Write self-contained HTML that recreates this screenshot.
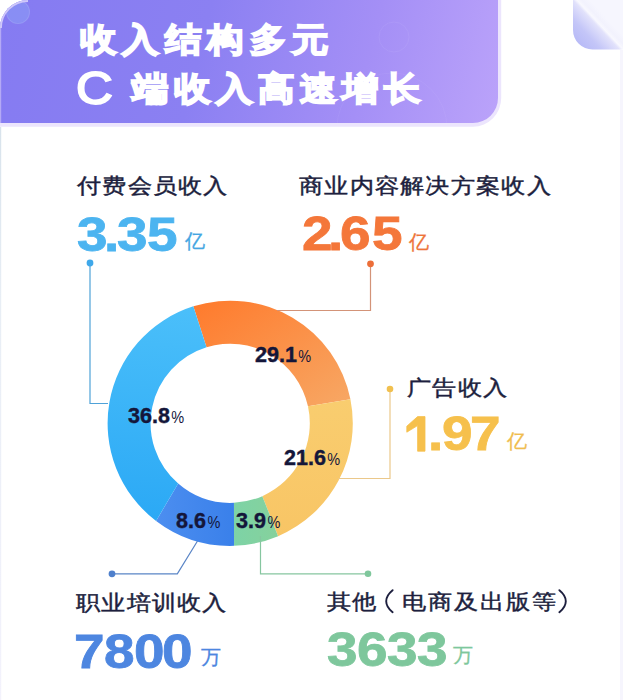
<!DOCTYPE html>
<html><head><meta charset="utf-8">
<style>
html,body{margin:0;padding:0;}
body{width:623px;height:700px;position:relative;overflow:hidden;background:#fff;font-family:"Liberation Sans",sans-serif;}
.t{position:absolute;color:#fff;font-weight:900;font-size:35px;white-space:nowrap;letter-spacing:5.8px;line-height:1;-webkit-text-stroke:1.9px #fff;transform-origin:0 0;transform:scale(1.04,0.94);}
.lab{position:absolute;color:#1d1f3e;font-weight:500;font-size:24px;white-space:nowrap;line-height:1;letter-spacing:1.3px;-webkit-text-stroke:0.5px #1d1f3e;transform-origin:0 0;transform:scaleY(0.87);}
.num{position:absolute;font-weight:bold;font-size:49px;white-space:nowrap;line-height:1;-webkit-text-stroke:0.8px currentColor;transform-origin:0 0;transform:scaleX(1.12);}
.u{position:absolute;font-size:19.5px;font-weight:500;white-space:nowrap;line-height:1;-webkit-text-stroke:0.3px currentColor;}
.pct{position:absolute;color:#14163a;font-weight:bold;font-size:21.5px;white-space:nowrap;line-height:1;-webkit-text-stroke:0.4px #14163a;}
.pct span{-webkit-text-stroke:0;font-weight:normal;font-size:14.5px;margin-left:1.5px;display:inline-block;transform-origin:0 100%;transform:scaleY(1.14);}
svg{position:absolute;left:0;top:0;}
</style></head><body>
<svg width="623" height="140" style="position:absolute;left:0;top:0;">
<defs>
<linearGradient id="gH" gradientUnits="userSpaceOnUse" x1="0" y1="0" x2="500" y2="125"><stop offset="0" stop-color="#857bf2"/><stop offset="0.4" stop-color="#8b80f2"/><stop offset="0.72" stop-color="#a48ff6"/><stop offset="1" stop-color="#bba3fa"/></linearGradient>
<clipPath id="cH"><path d="M0 28A28 28 0 0 1 28 0H498V98A25 25 0 0 1 473 123H0Z"/></clipPath>
</defs>
<path d="M0 28A28 28 0 0 1 28 0H501.2V98A28.7 28.7 0 0 1 473 126.8H0Z" fill="#ece5fd"/>
<path d="M0 28A28 28 0 0 1 28 0H498V98A25 25 0 0 1 473 123H0Z" fill="url(#gH)"/>
<g clip-path="url(#cH)">
<rect x="0" y="0" width="1.2" height="123" fill="#b4a9f6"/>
<circle cx="18" cy="12" r="11.5" fill="#8a94f4" fill-opacity="0.75" stroke="#a3a9f7" stroke-opacity="0.5" stroke-width="1.2"/>
<path d="M0.8 28A27.2 27.2 0 0 1 28 0.8" fill="none" stroke="#cfc8fa" stroke-width="2.2"/>
<circle cx="394" cy="37" r="15" fill="none" stroke="#ffffff" stroke-opacity="0.06" stroke-width="1"/>
<circle cx="392" cy="128" r="55" fill="none" stroke="#ffffff" stroke-opacity="0.05" stroke-width="1"/>
</g>
</svg>
<div class="t" style="left:80px;top:23px;">收入结构多元</div>
<div class="t" style="left:76px;top:65px;font-size:49px;letter-spacing:0;font-weight:normal;-webkit-text-stroke:2px #fff;">C</div>
<div class="t" style="left:132px;top:72px;letter-spacing:5.4px;">端收入高速增长</div>

<svg width="623" height="700" viewBox="0 0 623 700">
<defs>
<linearGradient id="gOr" x1="0" y1="0" x2="1" y2="1"><stop offset="0" stop-color="#ff7a2c"/><stop offset="1" stop-color="#f7a865"/></linearGradient>
<linearGradient id="gYe" x1="0" y1="0" x2="0" y2="1"><stop offset="0" stop-color="#f9cd6f"/><stop offset="1" stop-color="#f8c565"/></linearGradient>
<linearGradient id="gGr" x1="0" y1="0" x2="1" y2="0"><stop offset="0" stop-color="#7dd3a6"/><stop offset="1" stop-color="#86d19c"/></linearGradient>
<linearGradient id="gDb" x1="0" y1="0" x2="1" y2="0"><stop offset="0" stop-color="#4c8ef0"/><stop offset="1" stop-color="#3a80ea"/></linearGradient>
<linearGradient id="gLb" gradientUnits="userSpaceOnUse" x1="200" y1="300" x2="180" y2="530"><stop offset="0" stop-color="#4cc0fa"/><stop offset="1" stop-color="#2aa8f5"/></linearGradient>
<linearGradient id="gFold" gradientUnits="userSpaceOnUse" x1="572.5" y1="48.9" x2="605.8" y2="17.7"><stop offset="0" stop-color="#b0b3f6"/><stop offset="0.45" stop-color="#c4c6f8"/><stop offset="0.74" stop-color="#e2e2fb"/><stop offset="0.8" stop-color="#f8f8fe"/><stop offset="0.88" stop-color="#f2f2fd"/><stop offset="1" stop-color="#f6f6fe"/></linearGradient>
</defs>
<path d="M573 0V30A19.6 19.6 0 0 0 592.6 49.6H623V0Z" fill="url(#gFold)"/>
<rect x="620" y="50" width="3" height="650" fill="#f6f5fd"/>
<linearGradient id="gLeft" x1="0" y1="0" x2="0" y2="1"><stop offset="0" stop-color="#d8e3ec"/><stop offset="0.3" stop-color="#e8eef5"/><stop offset="1" stop-color="#f3f2fc"/></linearGradient>
<rect x="0" y="127" width="1.2" height="573" fill="url(#gLeft)"/>
<path d="M193.33 306.37A122.6 122.6 0 0 1 350.42 399.28L307.97 406.34A79.6 79.6 0 0 0 206.53 347.30Z" fill="url(#gOr)"/>
<path d="M350.42 399.28A122.6 122.6 0 0 1 278.10 536.15L262.32 496.13A79.6 79.6 0 0 0 307.97 406.34Z" fill="url(#gYe)"/>
<path d="M278.10 536.15A122.6 122.6 0 0 1 234.05 545.84L233.95 502.81A79.6 79.6 0 0 0 262.32 496.13Z" fill="url(#gGr)"/>
<path d="M234.05 545.84A122.6 122.6 0 0 1 156.08 520.95L178.19 483.56A79.6 79.6 0 0 0 233.95 502.81Z" fill="url(#gDb)"/>
<path d="M156.08 520.95A122.6 122.6 0 0 1 193.33 306.37L206.53 347.30A79.6 79.6 0 0 0 178.19 483.56Z" fill="url(#gLb)"/>
<g fill="none" stroke-width="1.2">
<path d="M90 263V403.5H108" stroke="#4fa2d8"/>
<path d="M370.5 264V310.5H277" stroke="#d39378"/>
<path d="M390 389V478.5H338" stroke="#ebc88a"/>
<path d="M112 573.8H177.3L197.5 541" stroke="#5a85c6"/>
<path d="M260.5 536V573.8H368" stroke="#86c6a0"/>
</g>
<circle cx="90" cy="263" r="3.4" fill="#3fa8ea"/>
<circle cx="370.5" cy="263.8" r="3.4" fill="#ec6e38"/>
<circle cx="390" cy="389" r="3.3" fill="#f1c04f"/>
<circle cx="112" cy="573.8" r="3.4" fill="#4f80cc"/>
<circle cx="368" cy="573.8" r="3.3" fill="#7fc79c"/>
</svg>

<div class="lab" style="left:77px;top:176px;">付费会员收入</div>
<div class="num" style="left:76.9px;top:209.5px;color:#4cb4f0;">3</div><div class="num" style="left:104.0px;top:209.5px;color:#4cb4f0;">.</div><div class="num" style="left:117.3px;top:209.5px;color:#4cb4f0;">3</div><div class="num" style="left:146.5px;top:209.5px;color:#4cb4f0;">5</div><div class="u" style="left:185px;top:231px;font-size:20px;color:#44a6e2;">亿</div>
<div class="lab" style="left:299px;top:176px;">商业内容解决方案收入</div>
<div class="num" style="left:301.9px;top:209px;color:#f4773a;">2</div><div class="num" style="left:328.0px;top:209px;color:#f4773a;">.</div><div class="num" style="left:340.2px;top:209px;color:#f4773a;">6</div><div class="num" style="left:371.5px;top:209px;color:#f4773a;">5</div><div class="u" style="left:409px;top:231.5px;font-size:20px;color:#ee7438;">亿</div>
<div class="lab" style="left:407px;top:378px;">广告收入</div>
<svg width="623" height="700" style="position:absolute;left:0;top:0;"><path d="M417.6 416.6H425V451.2H417.6V425.6L406.8 432.2V426.2Z" fill="#f6c04c" stroke="#f6c04c" stroke-width="0.8" stroke-linejoin="round"/></svg><div class="num" style="left:428.3px;top:409px;color:#f6c04c;">.</div><div class="num" style="left:441.7px;top:409px;color:#f6c04c;">9</div><div class="num" style="left:470.0px;top:409px;color:#f6c04c;">7</div><div class="u" style="left:506.5px;top:431px;font-size:20px;color:#f0bd4e;">亿</div>
<div class="lab" style="left:76px;top:593px;">职业培训收入</div>
<div class="num" style="left:74.4px;top:626.5px;color:#4d86e0;">7</div><div class="num" style="left:103.7px;top:626.5px;color:#4d86e0;">8</div><div class="num" style="left:133.5px;top:626.5px;color:#4d86e0;">0</div><div class="num" style="left:161.7px;top:626.5px;color:#4d86e0;">0</div><div class="u" style="left:201px;top:648px;color:#4d86e0;">万</div>
<div class="lab" style="left:327px;top:592px;">其他</div><svg width="623" height="700" style="position:absolute;left:0;top:0;"><path d="M392.6 590.2Q386.2 595.5 386.2 601.2Q386.2 607 392.6 612.2M559.4 590.2Q565.8 595.5 565.8 601.2Q565.8 607 559.4 612.2" fill="none" stroke="#1d1f3e" stroke-width="1.9" stroke-linecap="round"/></svg><div class="lab" style="left:402px;top:592px;letter-spacing:2px;">电商及出版等</div>
<div class="num" style="left:326.7px;top:625px;color:#7ec79c;">3</div><div class="num" style="left:356.5px;top:625px;color:#7ec79c;">6</div><div class="num" style="left:387.0px;top:625px;color:#7ec79c;">3</div><div class="num" style="left:416.6px;top:625px;color:#7ec79c;">3</div><div class="u" style="left:453px;top:646px;color:#7ec79c;">万</div>

<div class="pct" style="left:128px;top:406px;">36.8<span>%</span></div>
<div class="pct" style="left:255px;top:345px;">29.1<span>%</span></div>
<div class="pct" style="left:284px;top:448px;">21.6<span>%</span></div>
<div class="pct" style="left:176px;top:511px;">8.6<span>%</span></div>
<div class="pct" style="left:236px;top:511px;">3.9<span>%</span></div>
</body></html>
